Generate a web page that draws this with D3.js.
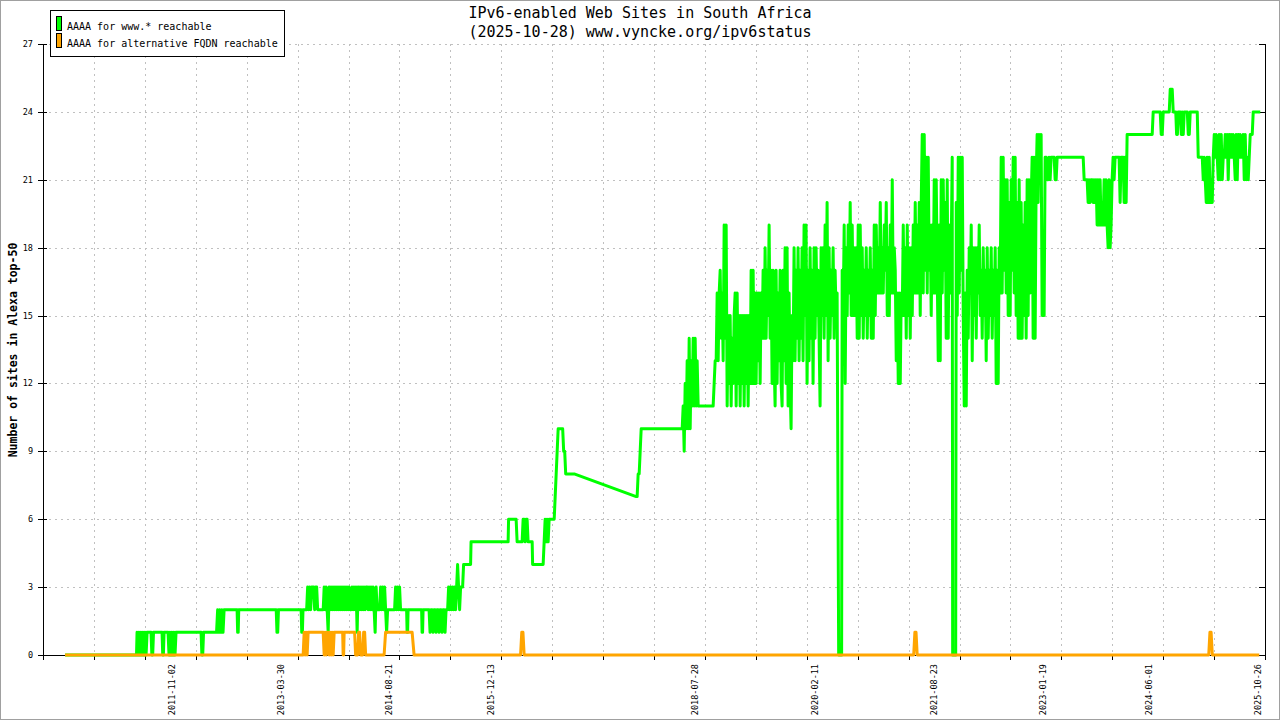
<!DOCTYPE html>
<html><head><meta charset="utf-8">
<script src="https://cdn.jsdelivr.net/npm/d3@7"></script>
<style>body{margin:0;background:#fff}svg{display:block}</style>
</head><body><svg id="c" width="1280" height="720"></svg>
<script>
const titleLines = ["IPv6-enabled Web Sites in South Africa", "(2025-10-28) www.vyncke.org/ipv6status"];
const yAxisTitle = "Number of sites in Alexa top-50";
const legendLabels = ["AAAA for www.* reachable", "AAAA for alternative FQDN reachable"];
const seriesColors = ["#00ff00", "#ffa500"];
const yTicks = [0, 3, 6, 9, 12, 15, 18, 21, 24, 27];
const xDomain = ["2010-03-06", "2025-11-28"];
const xGridCount = 24;
const xLabelDates = ["2011-11-02", "2013-03-30", "2014-08-21", "2015-12-13", "2018-07-28",
  "2020-02-11", "2021-08-23", "2023-01-19", "2024-06-01", "2025-10-26"];

// runs of readings: [start (decimal year), end (decimal year), readings spread evenly over the run]
const wwwRuns = [
  [2010.460, 2011.380, [0,0]],
  [2011.387, 2011.529, [1,0,1,0,1,0,1,0,1,0,1,1]],
  [2011.567, 2011.599, [1,0,0,1]],
  [2011.709, 2011.735, [1,0,0,1]],
  [2011.786, 2011.889, [1,0,1,0,1,0,1,0,1]],
  [2012.211, 2012.243, [1,0,0,1]],
  [2012.410, 2012.507, [1,2,1,2,1,2,1,2]],
  [2012.674, 2012.695, [2,1,1,2]],
  [2013.177, 2013.206, [2,1,1,2]],
  [2013.498, 2013.522, [2,1,1,2]],
  [2013.569, 2013.711, [2,3,2,3,2,3,3,3,2,3,3,2]],
  [2013.782, 2014.142, [2,3,2,3,2,1,3,2,3,2,3,2,3,2,3,2,3,2,3,2,3,2,3,2,3,2,3,2,2]],
  [2014.155, 2014.490, [3,2,3,2,3,1,3,2,3,2,3,2,3,2,3,3,2,3,2,3,2,3,2,1,3,2,2]],
  [2014.509, 2014.625, [2,3,2,3,2,3,2,1,2,2]],
  [2014.702, 2014.779, [2,3,2,3,2,3,2]],
  [2014.857, 2014.876, [2,1,1,2]],
  [2015.050, 2015.069, [2,1,1,2]],
  [2015.146, 2015.365, [2,1,2,2,1,2,2,1,2,2,1,2,2,1,2,2,1,2]],
  [2015.385, 2015.591, [2,3,2,3,2,3,2,3,2,3,4,3,2,3,3,3,4]],
  [2015.681, 2015.687, [4,5]],
  [2016.164, 2016.170, [5,6]],
  [2016.267, 2016.421, [6,5,5,5,5,5,5,6,6,5,6,6,5]],
  [2016.473, 2016.479, [5,4]],
  [2016.614, 2016.691, [4,5,6,5,6,5,6]],
  [2016.756, 2016.807, [6,7,8,9,10]],
  [2016.865, 2016.904, [10,9,9,8]],
  [2017.013, 2017.812, [8,7]],
  [2017.824, 2017.889, [7,8,8,9,10,10]],
  [2018.404, 2018.610, [10,11,9,12,10,13,10,14,10,13,11,14,11,14,11,13,11]],
  [2018.803, 2018.829, [11,12,13]],
  [2018.842, 2020.399, [
    13,16,13,16,17,14,16,13,19,14,
    19,11,15,12,15,11,14,12,15,16,
    11,16,12,15,11,15,12,15,11,15,
    12,15,11,15,12,17,12,17,12,16,
    12,16,13,16,12,16,14,17,14,18,
    14,17,15,19,14,17,12,17,13,11,
    17,12,16,13,17,12,11,17,13,18,
    12,18,11,16,12,10,15,13,18,13,
    17,14,18,13,17,14,18,13,19,15,
    19,12,17,13,18,14,17,12,18,14,
    18,15,17,14,11,18,15,18,14,19,
    15,20,13,18,14,17,15,18,14,17,
    15,16]],
  [2020.419, 2020.457, [0,0]],
  [2020.464, 2021.880, [
    17,15,19,12,18,15,19,16,20,15,
    19,15,18,15,18,14,19,14,19,15,
    18,14,17,15,18,14,17,15,18,14,
    17,14,19,15,19,16,18,16,20,16,
    18,16,19,17,20,15,18,15,19,16,
    21,16,18,17,13,16,12,16,12,16,
    15,19,15,18,14,19,15,18,14,18,
    15,19,16,20,16,19,16,20,15,20,
    23,16,23,17,22,16,22,17,19,15,
    19,16,21,16,21,17,13,19,13,21,
    16,21,17,20,14,21,14,19,16,18,
    22]],
  [2021.886, 2021.925, [0,0]],
  [2021.932, 2023.077, [
    20,15,22,16,22,17,22,15,11,16,
    11,17,14,18,16,19,13,18,15,18,
    14,18,16,19,15,17,14,18,15,17,
    13,18,14,17,15,18,14,17,15,18,
    12,17,12,18,16,22,16,22,17,21,
    16,21,15,20,15,21,17,22,16,22,
    15,20,14,21,14,20,14,19,15,20,
    14,21,15,21,16,20,22,14,22,14,
    21,23,20,23,21,23,15,17,15,22]],
  [2023.090, 2023.245, [22,21,21,22,21,22,22,22,22,21,21,22,22]],
  [2023.567, 2023.580, [22,21]],
  [2023.618, 2024.146, [
    21,20,21,20,21,21,20,21,20,21,19,
    21,19,21,19,20,19,21,19,21,19,
    18,21,18,19,21,22,21,22,22,22,
    22,22,20,22,22,22,20,22,20,23,23]],
  [2024.455, 2024.468, [23,24]],
  [2024.558, 2024.597, [24,23,23,24]],
  [2024.674, 2024.738, [24,25,25,25,24,24]],
  [2024.758, 2024.790, [24,23,23,24]],
  [2024.816, 2024.867, [24,23,24,23,24]],
  [2024.906, 2024.944, [24,23,23,24]],
  [2025.034, 2025.768, [
    24,22,22,22,22,22,21,22,21,20,
    22,20,22,20,21,20,22,23,22,23,
    22,21,23,21,23,21,22,22,23,22,
    23,21,23,22,23,22,23,22,21,23,
    21,23,22,23,22,22,23,21,23,21,
    22,21,22,23,23,23,24,24]],
  [2025.833, 2025.846, [24,24]]
];

const altRuns = [
  [2010.460, 2013.518, [0,0]],
  [2013.524, 2013.614, [0,1,0,1,0,1,1,1]],
  [2013.782, 2013.962, [1,0,1,0,1,1,0,1,0,1,0,1,1,1,1]],
  [2014.033, 2014.052, [1,0,0,1]],
  [2014.187, 2014.342, [1,0,0,0,1,1,0,0,0,1,1,0,0]],
  [2014.567, 2014.586, [0,1]],
  [2014.928, 2014.953, [1,0]],
  [2016.324, 2016.370, [0,1,1,0]],
  [2021.384, 2021.429, [0,1,1,0]],
  [2025.182, 2025.228, [0,1,1,0]],
  [2025.826, 2025.833, [0,0]]
];

function yd(y) {
  const yr = Math.floor(y);
  const s = Date.UTC(yr, 0, 1), e = Date.UTC(yr + 1, 0, 1);
  return new Date(s + (y - yr) * (e - s));
}
function expand(runs) {
  const pts = [];
  runs.forEach(([a, b, vals]) => {
    const n = vals.length;
    vals.forEach((v, i) => pts.push([yd(n === 1 ? a : a + (b - a) * i / (n - 1)), v]));
  });
  return pts;
}
const parse = d3.utcParse("%Y-%m-%d");

const svg = d3.select("#c");
const L = 43, R = 1265, T = 44, B = 655;
const x = d3.scaleUtc().domain(xDomain.map(parse)).range([L, R]);
const y = d3.scaleLinear().domain([0, 27]).range([B, T]);

svg.append("rect").attr("x", 0.5).attr("y", 0.5).attr("width", 1279).attr("height", 719)
  .attr("fill", "#fff").attr("stroke", "#a0a0a0");

// grid dates: evenly divided domain
const d0 = x.domain()[0].getTime(), d1 = x.domain()[1].getTime();
const gridDates = d3.range(1, xGridCount).map(k => new Date(d0 + (d1 - d0) * k / xGridCount));

const grid = svg.append("g").attr("stroke", "#c0c0c0").attr("stroke-dasharray", "2,4").attr("stroke-width", 1);
gridDates.forEach(d => {
  const px = Math.round(x(d)) + 0.5;
  grid.append("line").attr("x1", px).attr("x2", px).attr("y1", T).attr("y2", B);
});
yTicks.filter(v => v > 0).forEach(v => {
  const py = Math.round(y(v)) + 0.5;
  grid.append("line").attr("x1", L).attr("x2", R).attr("y1", py).attr("y2", py);
});

// axes
const ax = svg.append("g").attr("stroke", "#000").attr("stroke-width", 1);
ax.append("line").attr("x1", L + 0.5).attr("x2", L + 0.5).attr("y1", T).attr("y2", B + 0.5);
ax.append("line").attr("x1", R + 0.5).attr("x2", R + 0.5).attr("y1", T).attr("y2", B + 0.5);
ax.append("line").attr("x1", L).attr("x2", R + 1).attr("y1", B + 0.5).attr("y2", B + 0.5);
yTicks.forEach(v => {
  const py = Math.round(y(v)) + 0.5;
  ax.append("line").attr("x1", L - 5).attr("x2", L + 4).attr("y1", py).attr("y2", py);
  ax.append("line").attr("x1", R - 6).attr("x2", R).attr("y1", py).attr("y2", py);
});
[x.domain()[0]].concat(gridDates, [x.domain()[1]]).forEach(d => {
  const px = Math.round(x(d)) + 0.5;
  ax.append("line").attr("x1", px).attr("x2", px).attr("y1", B).attr("y2", B + 5);
});

const mono = "'DejaVu Sans Mono', 'Liberation Mono', monospace";
svg.append("g").selectAll("text").data(yTicks).join("text")
  .attr("x", 33).attr("y", v => y(v)).attr("dy", "0.35em")
  .attr("text-anchor", "end").attr("font-family", mono).attr("font-size", 8.5)
  .text(v => v);

svg.append("g").selectAll("text").data(xLabelDates).join("text")
  .attr("transform", d => `translate(${x(parse(d))},664) rotate(-90)`)
  .attr("dy", "0.35em").attr("text-anchor", "end")
  .attr("font-family", mono).attr("font-size", 8.5).text(d => d);

svg.append("text").attr("transform", "translate(13,350) rotate(-90)")
  .attr("dy", "0.35em").attr("text-anchor", "middle")
  .attr("font-family", mono).attr("font-size", 11.5).attr("font-weight", "bold")
  .text(yAxisTitle);

svg.append("g").selectAll("text").data(titleLines).join("text")
  .attr("x", 640).attr("y", (d, i) => 18 + i * 19).attr("text-anchor", "middle")
  .attr("font-family", mono).attr("font-size", 15).text(d => d);

// series
const line = d3.line().x(d => x(d[0])).y(d => y(d[1]));
[wwwRuns, altRuns].forEach((runs, i) => {
  svg.append("path").datum(expand(runs)).attr("d", line)
    .attr("fill", "none").attr("stroke", seriesColors[i])
    .attr("stroke-width", 3).attr("stroke-linejoin", "round").attr("stroke-linecap", "butt");
});

// legend
const lg = svg.append("g");
lg.append("rect").attr("x", 50.5).attr("y", 10.5).attr("width", 234).attr("height", 46)
  .attr("fill", "#fff").attr("stroke", "#000");
legendLabels.forEach((t, i) => {
  lg.append("rect").attr("x", 56.5).attr("y", 16.5 + i * 17).attr("width", 5).attr("height", 14)
    .attr("fill", seriesColors[i]).attr("stroke", "#000");
  lg.append("text").attr("x", 67).attr("y", 29.5 + i * 17)
    .attr("font-family", mono).attr("font-size", 10).text(t);
});
</script></body></html>
